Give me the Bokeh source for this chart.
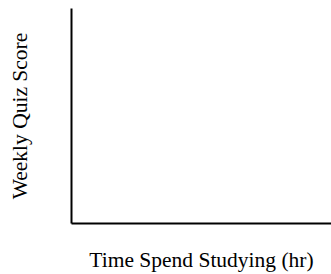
from bokeh.plotting import figure
from bokeh.models import FixedTicker, Range1d
from bokeh.embed import file_html
from bokeh.resources import INLINE

x_label = "Time Spend Studying (hr)"
y_label = "Weekly Quiz Score"
x_ticks = []
y_ticks = []

p = figure(width=331, height=274, output_backend="svg", toolbar_location=None,
           x_range=Range1d(0, 10), y_range=Range1d(0, 100),
           min_border_left=71, min_border_right=0, min_border_top=8, min_border_bottom=50)
p.outline_line_color = None
p.grid.visible = False
p.background_fill_color = "white"
p.border_fill_color = "white"

for ax in (p.xaxis[0], p.yaxis[0]):
    ax.ticker = FixedTicker(ticks=[])
    ax.major_tick_line_color = None
    ax.minor_tick_line_color = None
    ax.axis_line_color = "black"
    ax.axis_line_width = 2
    ax.axis_label_text_font = "Liberation Serif"
    ax.axis_label_text_font_style = "normal"
    ax.axis_label_text_font_size = "21.5px"
    ax.axis_label_text_color = "black"

p.xaxis[0].axis_label = x_label
p.yaxis[0].axis_label = y_label
p.xaxis[0].axis_label_standoff = 24
p.yaxis[0].axis_label_standoff = 40

open("out.html", "w").write(file_html(p, INLINE))
